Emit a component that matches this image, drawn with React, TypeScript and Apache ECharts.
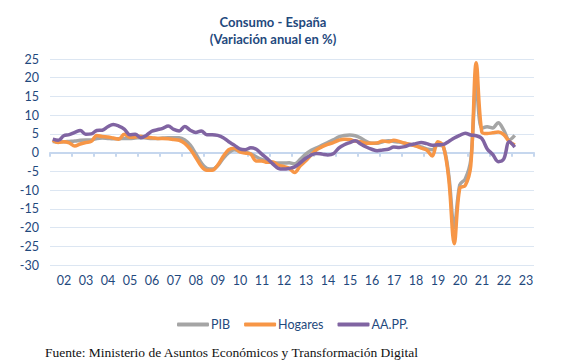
import React, { useEffect, useRef } from "react";
import * as echarts from "echarts";

const yearLabels = ["02","03","04","05","06","07","08","09","10","11","12","13","14","15","16","17","18","19","20","21","22","23"];
const startYear = 2002;

// Quarterly annual variation (%), 2002T1 .. 2023T1
const pib = [
  3.0, 2.9, 2.9, 3.0,
  3.1, 3.3, 3.4, 3.4,
  3.8, 3.9, 3.8, 3.7,
  3.7, 3.8, 3.8, 3.9,
  4.0, 3.9, 3.8, 3.8,
  3.9, 4.0, 4.0, 4.0,
  3.4, 2.0, -0.3, -2.7,
  -4.2, -4.4, -3.5, -1.5,
  0.0, 0.8, 0.4, 0.1,
  -0.3, -1.1, -1.8, -2.3,
  -2.6, -2.8, -2.8, -2.7,
  -3.0, -1.8, -0.4, 0.6,
  1.3, 2.0, 2.7, 3.4,
  4.2, 4.6, 4.7, 4.5,
  3.9, 3.0, 2.5, 2.5,
  2.9, 3.2, 3.0, 2.8,
  2.5, 2.2, 1.8, 1.5,
  1.0, 0.8, 2.0, 1.6,
  -6.0, -20.0, -8.6, -7.0,
  -2.0, 18.0, 6.5, 6.9,
  6.6, 8.0, 6.0, 3.4,
  4.6
];

const hogares = [
  3.3, 2.7, 2.9, 2.6,
  1.8, 2.3, 2.7, 3.0,
  4.6, 4.3, 4.2, 3.9,
  3.6, 4.9, 4.1, 4.2,
  4.4, 4.1, 4.0, 3.8,
  3.8, 3.7, 3.5, 3.3,
  2.5, 0.9, -1.3, -3.6,
  -4.7, -4.7, -3.3, -1.0,
  0.8, 1.2, 0.2, -0.1,
  -0.4, -2.2, -2.2, -2.6,
  -2.5, -3.3, -3.7, -4.2,
  -5.3, -3.5, -2.2, -0.6,
  0.8, 1.6, 2.2, 2.7,
  3.3, 3.6, 3.5, 3.1,
  2.9, 2.5, 2.5, 2.6,
  3.1, 2.9, 3.3, 3.0,
  2.5, 2.2, 1.8, 1.2,
  0.7, -0.9, 2.9, 1.8,
  -7.0, -24.3, -9.5, -8.8,
  -3.5, 24.0, 5.6, 5.1,
  5.3, 5.5, 4.8, 3.0,
  2.0
];

const aapp = [
  3.6, 3.3, 4.5, 4.8,
  5.4, 5.9, 4.9, 5.0,
  5.9, 6.0, 6.9, 7.5,
  7.1, 6.3, 4.8, 4.9,
  4.0, 4.6, 5.7, 6.1,
  6.5, 7.1, 6.2, 5.8,
  7.0, 6.0, 5.4, 5.8,
  4.8, 4.8, 4.6, 4.0,
  2.9, 2.0, 1.0, 0.8,
  1.3, 0.9, -0.4, -1.6,
  -3.0, -4.2, -4.4, -4.2,
  -3.8, -2.7, -1.5, -0.6,
  -0.2, -0.4, -0.6, -0.3,
  1.2, 2.1, 2.7, 3.2,
  2.3, 1.5, 0.9, 0.5,
  0.7, 0.9, 1.5, 1.4,
  1.6, 2.1, 2.4, 2.7,
  2.4, 2.0, 2.1, 2.2,
  3.0, 3.9, 4.6, 5.2,
  4.7, 4.5, 3.8, 1.0,
  -0.5, -2.4, -1.7, 2.9,
  1.5
];

const seriesNames = ["PIB", "Hogares", "AA.PP."];
const seriesColors = ["#A5A5A5", "#F79646", "#8064A2"];
const titleLines = ["Consumo - España", "(Variación anual en %)"];
const sourceText = "Fuente: Ministerio de Asuntos Económicos y Transformación Digital";

const textBlue = "#1F497D";
const sans = "Lato, 'Open Sans', sans-serif";

function toPoints(values: number[]) {
  return values.map((v, i) => [startYear + (i + 0.5) / 4, v]);
}

export default function App() {
  const ref = useRef<HTMLDivElement>(null);
  useEffect(() => {
    if (!ref.current) return;
    const chart = echarts.init(ref.current, null, { renderer: "svg" });
    const data = [pib, hogares, aapp];
    chart.setOption({
      animation: false,
      backgroundColor: "#ffffff",
      grid: { left: 50, right: 33, top: 59, bottom: 95, containLabel: false },
      legend: {
        data: seriesNames,
        left: 172,
        top: 313,
        icon: "roundRect",
        itemWidth: 32,
        itemHeight: 4,
        itemGap: 14,
        textStyle: { color: textBlue, fontSize: 12.5, fontFamily: sans, padding: [0, 0, 0, -3] },
      },
      xAxis: [
        {
          type: "value",
          min: 2002,
          max: 2024,
          interval: 1,
          axisLine: { onZero: true, lineStyle: { color: "#C6D7EE", width: 2 } },
          axisTick: { show: true, length: 4, lineStyle: { color: "#C6D7EE", width: 2 } },
          axisLabel: { show: false },
          splitLine: { show: false },
        },
        {
          type: "category",
          data: yearLabels,
          position: "bottom",
          boundaryGap: true,
          axisLine: { show: false, onZero: false },
          axisTick: { show: false },
          axisLabel: { color: textBlue, fontSize: 12.5, fontFamily: sans, margin: 9, padding: [0, 0, 0, 6], interval: 0 },
          splitLine: { show: false },
        },
      ],
      yAxis: {
        type: "value",
        min: -30,
        max: 25,
        interval: 5,
        axisLine: { show: false },
        axisTick: { show: false },
        axisLabel: { color: textBlue, fontSize: 12.5, fontFamily: sans, margin: 11 },
        splitLine: { lineStyle: { color: "#DCE6F2", width: 1 } },
      },
      series: data.map((vals, i) => ({
        name: seriesNames[i],
        type: "line",
        xAxisIndex: 0,
        data: toPoints(vals),
        showSymbol: false,
        symbol: "none",
        smooth: 0.35,
        lineStyle: { color: seriesColors[i], width: 3.5 },
        itemStyle: { color: seriesColors[i] },
        z: 2 + i,
      })),
      graphic: [
        {
          type: "text",
          x: 273,
          y: 22,
          style: { text: titleLines[0], textAlign: "center", textVerticalAlign: "middle", font: `bold 13px ${sans}`, fill: textBlue },
        },
        {
          type: "text",
          x: 273,
          y: 39,
          style: { text: titleLines[1], textAlign: "center", textVerticalAlign: "middle", font: `bold 13px ${sans}`, fill: textBlue },
        },
        {
          type: "text",
          x: 45,
          y: 352,
          style: { text: sourceText, textAlign: "left", textVerticalAlign: "middle", font: `13.5px 'Liberation Serif', 'Times New Roman', serif`, fill: "#111111" },
        },
      ],
    });
    return () => chart.dispose();
  }, []);
  return <div ref={ref} style={{ position: "fixed", left: 0, top: 0, width: 567, height: 360 }} />;
}
